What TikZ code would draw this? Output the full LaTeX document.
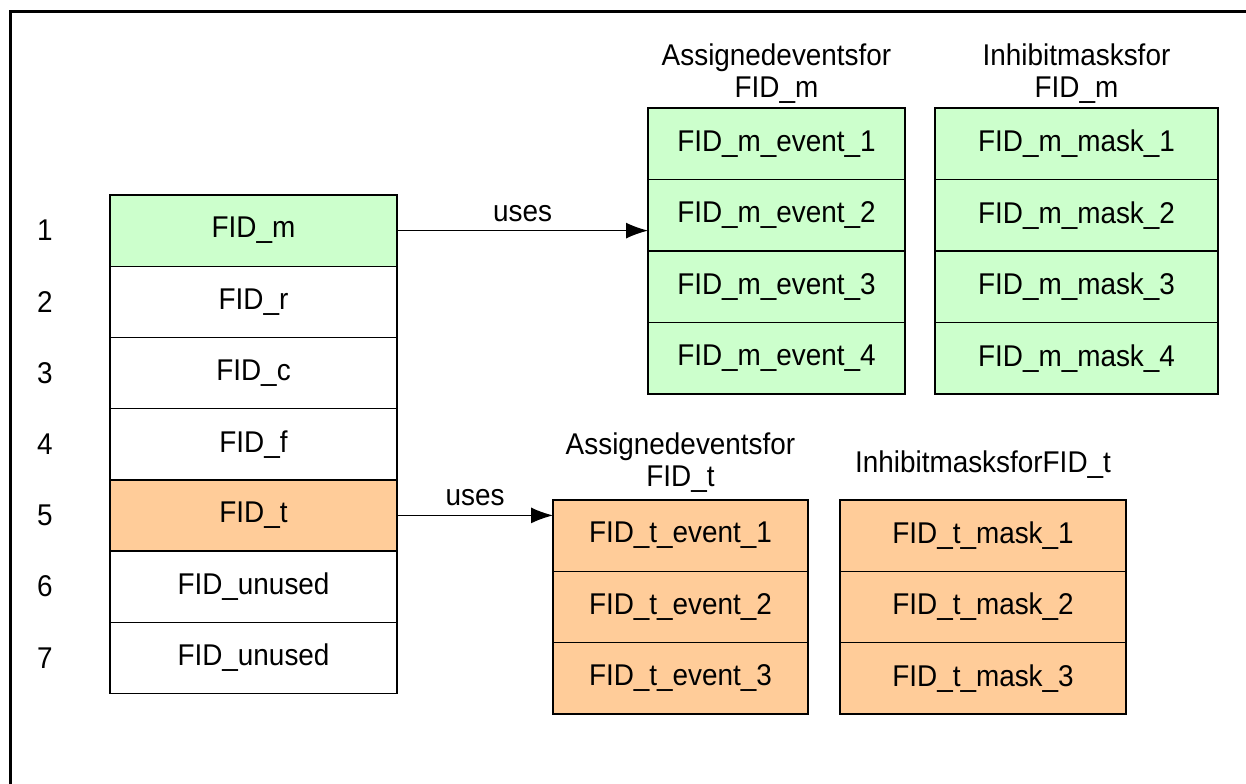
\documentclass[tikz,border=0pt]{standalone}
\usepackage{fontspec}
\setmainfont{Liberation Sans}[FakeStretch=0.93]
\usetikzlibrary{arrows.meta}
\definecolor{cgreen}{HTML}{CCFFCC}
\definecolor{corange}{HTML}{FFCC99}
\begin{document}
\begin{tikzpicture}[x=0.5pt,y=-0.5pt,
  every node/.style={font=\fontsize{15}{16}\selectfont},
  cell/.style={draw=black, line width=0.7pt, inner sep=0pt, outer sep=0pt, minimum height=35.6pt},
  lcell/.style={cell, fill=white, minimum width=143.5pt},
  gev/.style={cell, fill=cgreen, minimum width=128.5pt, minimum height=35.75pt},
  gmk/.style={cell, fill=cgreen, minimum width=141.5pt, minimum height=35.75pt},
  oev/.style={cell, fill=corange, minimum width=127.5pt, minimum height=35.65pt},
  omk/.style={cell, fill=corange, minimum width=143pt, minimum height=35.65pt},
  title/.style={align=center, inner sep=0pt},
  num/.style={inner sep=0pt},
  uses/.style={-{Latex[length=11pt,width=8pt]}, line width=0.6pt}
]
\useasboundingbox (0,0) rectangle (1246,783);
\begin{scope}
\clip (0,0) rectangle (1246,783);
\draw[line width=1.5pt] (10,11) rectangle (1280,820);
\end{scope}

% left column
\node[lcell, fill=cgreen] (fidm) at (253.5,230.6) {FID\_m};
\node[lcell] (fidr) at (253.5,301.8) {FID\_r};
\node[lcell] (fidc) at (253.5,373.0) {FID\_c};
\node[lcell] (fidf) at (253.5,444.2) {FID\_f};
\node[lcell, fill=corange] (fidt) at (253.5,515.4) {FID\_t};
\node[lcell] (fidu6) at (253.5,586.6) {FID\_unused};
\node[lcell] (fidu7) at (253.5,657.8) {FID\_unused};

\node[num] (n1) at (45,230.6) {1};
\node[num] (n2) at (45,301.8) {2};
\node[num] (n3) at (45,373.0) {3};
\node[num] (n4) at (45,444.2) {4};
\node[num] (n5) at (45,515.4) {5};
\node[num] (n6) at (45,586.6) {6};
\node[num] (n7) at (45,657.8) {7};

% green events
\node[gev] (me1) at (776.5,143.75) {FID\_m\_event\_1};
\node[gev] (me2) at (776.5,215.25) {FID\_m\_event\_2};
\node[gev] (me3) at (776.5,286.75) {FID\_m\_event\_3};
\node[gev] (me4) at (776.5,358.25) {FID\_m\_event\_4};
% green masks
\node[gmk] (mm1) at (1076.5,143.75) {FID\_m\_mask\_1};
\node[gmk] (mm2) at (1076.5,215.25) {FID\_m\_mask\_2};
\node[gmk] (mm3) at (1076.5,286.75) {FID\_m\_mask\_3};
\node[gmk] (mm4) at (1076.5,358.25) {FID\_m\_mask\_4};

\node[title] (tme) at (776.5,74) {Assignedeventsfor\\FID\_m};
\node[title] (tmm) at (1076.5,74) {Inhibitmasksfor\\FID\_m};

% orange events
\node[oev] (te1) at (680.5,535.6) {FID\_t\_event\_1};
\node[oev] (te2) at (680.5,606.9) {FID\_t\_event\_2};
\node[oev] (te3) at (680.5,678.2) {FID\_t\_event\_3};
% orange masks
\node[omk] (tm1) at (983,535.6) {FID\_t\_mask\_1};
\node[omk] (tm2) at (983,606.9) {FID\_t\_mask\_2};
\node[omk] (tm3) at (983,678.2) {FID\_t\_mask\_3};

\node[title] (tte) at (680.5,463) {Assignedeventsfor\\FID\_t};
\node[title] (ttm) at (983,465) {InhibitmasksforFID\_t};

% arrows
\draw[uses] (fidm.east) -- (fidm.east -| me2.west) node[midway, above=1pt] (u1) {uses};
\draw[uses] (fidt.east) -- (fidt.east -| te1.west) node[midway, above=1pt] (u2) {uses};
\end{tikzpicture}
\end{document}
